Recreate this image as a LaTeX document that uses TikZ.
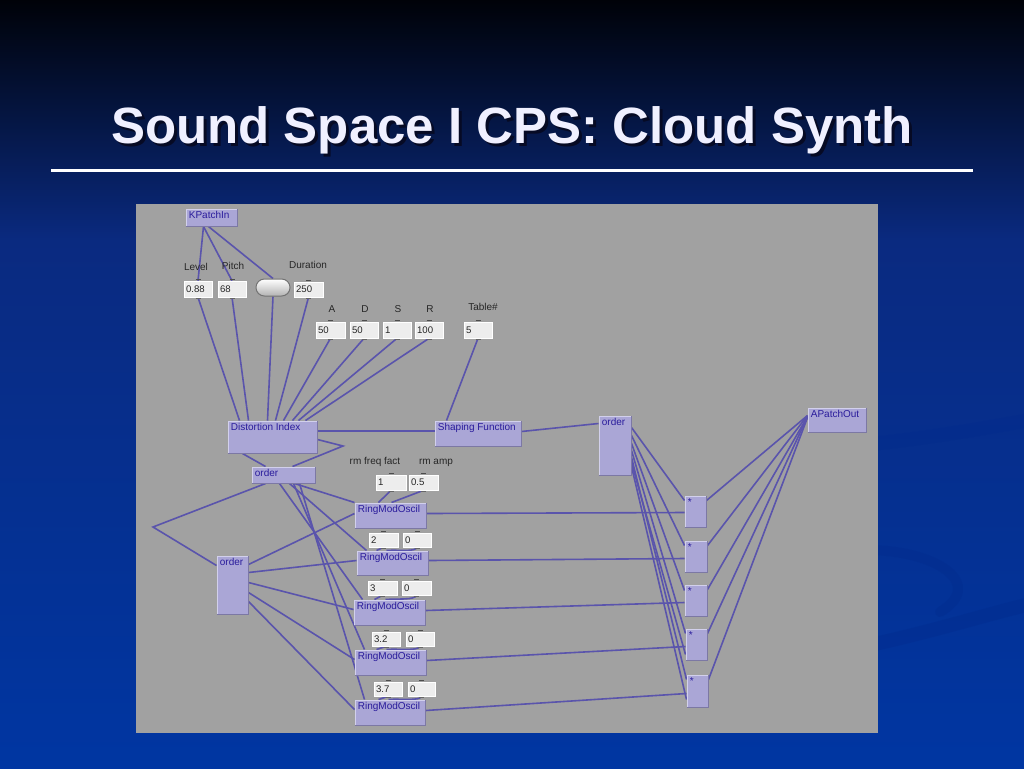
\documentclass[tikz,border=0pt]{standalone}
\usepackage{fontspec}
\setmainfont{Liberation Sans}
\usetikzlibrary{fit}
\definecolor{pdline}{HTML}{5A54AC}
\definecolor{boxfill}{HTML}{AAA6D6}
\definecolor{boxhi}{HTML}{D2D0EC}
\definecolor{boxlo}{HTML}{7C78A4}
\definecolor{boxtxt}{HTML}{2A1C9C}
\definecolor{numfill}{HTML}{EDEDED}
\definecolor{panelgray}{HTML}{A1A1A1}
\definecolor{bgtop}{HTML}{000208}
\definecolor{bgmid}{HTML}{0A2A80}
\definecolor{bgbot}{HTML}{0036A2}
\definecolor{swirlc}{HTML}{022A8C}
\definecolor{titlecol}{HTML}{F0F0FF}
\definecolor{titleshadow}{HTML}{060A24}
\pgfdeclarelayer{bg}
\pgfdeclarelayer{wires}
\pgfsetlayers{bg,wires,main}
\tikzset{
  pdb/.style={fill=boxfill, draw=boxhi, line width=0.5pt, inner sep=0pt},
  pdt/.style={anchor=north west, inner sep=0pt, text=boxtxt, font=\fontsize{5}{6}\selectfont},
  pnb/.style={fill=numfill, draw=white, line width=0.3pt, inner sep=0pt},
  pnt/.style={anchor=west, inner sep=0pt, text=black!85, font=\fontsize{4.8}{6}\selectfont},
  lbl/.style={inner sep=0pt, text=black!85, font=\fontsize{5}{6}\selectfont},
  wire/.style={draw=pdline, line width=0.8pt},
  swirl/.style={draw=swirlc, opacity=0.35, line cap=round},
  titlefont/.style={font=\fontsize{25.5}{30}\selectfont\bfseries, inner sep=0pt, anchor=base}
}
\newcommand\pdobj[6]{%
  \node[pdb, fit={(#2,#3)(#4,#5)}] (#1) {};
  \draw[boxlo, line width=0.5pt] (#1.south west) -- (#1.south east) -- (#1.north east);
  \node[pdt] at ([shift={(3,2.5)}]#1.north west) {#6};}
\newcommand\pdnum[6]{%
  \node[pnb, fit={(#2,#3)(#4,#5)}] (#1) {};
  \draw[black!70, line width=0.6pt] ([shift={(-2.5,-1.5)}]#1.north) -- ([shift={(2.5,-1.5)}]#1.north);
  \draw[black!60, line width=0.5pt] ([shift={(-2.5,1)}]#1.south) -- ([shift={(2.5,1)}]#1.south);
  \node[pnt] at ([shift={(2,0)}]#1.west) {#6};}
\begin{document}
\begin{tikzpicture}[x=0.5pt,y=-0.5pt]
\useasboundingbox (0,0) rectangle (1024,768);
\begin{pgfonlayer}{bg}
  \shade[top color=bgtop, bottom color=bgmid] (0,0) rectangle (1024,240);
  \shade[top color=bgmid, bottom color=bgbot] (0,240) rectangle (1024,768);
  \draw[swirl, line width=7pt] (870,444) .. controls (930,438) and (985,428) .. (1030,420);
  \draw[swirl, line width=5pt] (872,550) .. controls (940,552) and (985,585) .. (940,612);
  \draw[swirl, line width=7pt] (870,645) .. controls (930,632) and (985,615) .. (1030,604);
  \fill[panelgray] (136,204) rectangle (878,733);
\end{pgfonlayer}
% title
\node[titlefont, text=titleshadow] (tsh) at (515,146) {Sound Space I CPS: Cloud Synth};
\node[titlefont, text=titlecol] (title) at (512,143) {Sound Space I CPS: Cloud Synth};
\coordinate (rl) at (51,170);
\coordinate (rr) at (973,170);
\draw[white, line width=1.5pt] (rl) -- (rr);
% objects
\pdobj{kin}{186}{209}{237}{226}{KPatchIn}
\pdnum{n088}{184}{281}{212}{297}{0.88}
\pdnum{n68}{218}{281}{246}{297}{68}
\node[fit={(256,279)(290,296)}, inner sep=0pt, rounded corners=4.2pt, draw=black!55, line width=0.5pt, top color=white, bottom color=black!30] (btn) {};
\pdnum{n250}{294}{282}{323}{297}{250}
\pdnum{nA}{316}{322}{345}{338}{50}
\pdnum{nD}{350}{322}{378}{338}{50}
\pdnum{nS}{383}{322}{411}{338}{1}
\pdnum{nR}{415}{322}{443}{338}{100}
\pdnum{nT}{464}{322}{492}{338}{5}
\node[lbl] (lLevel) at (196,267) {Level};
\node[lbl] (lPitch) at (233,266) {Pitch};
\node[lbl] (lDur) at (308,265) {Duration};
\node[lbl] (lA) at (332,309) {A};
\node[lbl] (lD) at (365,309) {D};
\node[lbl] (lS) at (398,309) {S};
\node[lbl] (lR) at (430,309) {R};
\node[lbl] (lT) at (483,307) {Table\#};
\pdobj{di}{228}{421}{317}{453}{Distortion Index}
\pdobj{sf}{435}{421}{521}{446}{Shaping Function}
\pdobj{ordR}{599}{416}{631}{475}{order}
\pdobj{apo}{808}{408}{866}{432}{APatchOut}
\pdobj{ordS}{252}{467}{315}{483}{order}
\pdobj{ordL}{217}{556}{248}{614}{order}
\node[lbl] (lrf) at (375,462) {rm freq fact};
\node[lbl] (lra) at (436,463) {rm amp};
\pdnum{rf1}{376}{475}{406}{490}{1}
\pdnum{ra1}{409}{475}{438}{490}{0.5}
\pdobj{rmo1}{355}{503}{426}{528}{RingModOscil}
\pdnum{rf2}{369}{533}{398}{547}{2}
\pdnum{ra2}{403}{533}{431}{547}{0}
\pdobj{rmo2}{357}{551}{428}{575}{RingModOscil}
\pdnum{rf3}{368}{581}{397}{595}{3}
\pdnum{ra3}{402}{581}{431}{595}{0}
\pdobj{rmo3}{354}{600}{425}{625}{RingModOscil}
\pdnum{rf4}{372}{632}{400}{646}{3.2}
\pdnum{ra4}{406}{632}{434}{646}{0}
\pdobj{rmo4}{355}{650}{426}{675}{RingModOscil}
\pdnum{rf5}{374}{682}{402}{696}{3.7}
\pdnum{ra5}{408}{682}{435}{696}{0}
\pdobj{rmo5}{355}{700}{425}{725}{RingModOscil}
\pdobj{m1}{685}{496}{706}{527}{*}
\pdobj{m2}{685}{541}{707}{572}{*}
\pdobj{m3}{685}{585}{707}{616}{*}
\pdobj{m4}{686}{629}{707}{660}{*}
\pdobj{m5}{687}{675}{708}{707}{*}
\coordinate (zz) at (343,446);
\coordinate (lv) at (153,527);
% wires
\begin{pgfonlayer}{wires}
  \draw[wire] ([shift={(18,0)}]kin.south west) -- (n088.north);
  \draw[wire] ([shift={(18,0)}]kin.south west) -- (n68.north);
  \draw[wire] ([shift={(23,0)}]kin.south west) -- (btn.north);
  \draw[wire] (n088.south) -- ([shift={(12,0)}]di.north west);
  \draw[wire] (n68.south) -- ([shift={(21,0)}]di.north west);
  \draw[wire] (btn.south) -- ([shift={(40,0)}]di.north west);
  \draw[wire] (n250.south) -- ([shift={(48,0)}]di.north west);
  \draw[wire] (nA.south) -- ([shift={(56,0)}]di.north west);
  \draw[wire] (nD.south) -- ([shift={(65,0)}]di.north west);
  \draw[wire] (nS.south) -- ([shift={(71,0)}]di.north west);
  \draw[wire] (nR.south) -- ([shift={(78,0)}]di.north west);
  \draw[wire] (nT.south) -- ([shift={(12,0)}]sf.north west);
  \draw[wire] ([shift={(0,10.5)}]di.north east) -- ([shift={(0,10.5)}]sf.north west);
  \draw[wire] ([shift={(0,11)}]sf.north east) -- ([shift={(0,8)}]ordR.north west);
  \draw[wire] ([shift={(0,19)}]di.north east) -- (zz) -- ([shift={(41,0)}]ordS.north west);
  \draw[wire] ([shift={(15,0)}]di.south west) -- ([shift={(14,0)}]ordS.north west);
  \draw[wire] ([shift={(14,0)}]ordS.south west) -- (lv) -- ([shift={(0,10)}]ordL.north west);
  \draw[wire] ([shift={(43,0)}]ordS.south west) -- (rmo1.north west);
  \draw[wire] ([shift={(38,0)}]ordS.south west) -- ([shift={(10,0)}]rmo2.north west);
  \draw[wire] ([shift={(28,0)}]ordS.south west) -- ([shift={(9,0)}]rmo3.north west);
  \draw[wire] ([shift={(42,0)}]ordS.south west) -- ([shift={(10,0)}]rmo4.north west);
  \draw[wire] ([shift={(48,0)}]ordS.south west) -- ([shift={(10,0)}]rmo5.north west);
  \draw[wire] ([shift={(0,9)}]ordL.north east) -- ([shift={(0,11)}]rmo1.north west);
  \draw[wire] ([shift={(0,17)}]ordL.north east) -- ([shift={(0,10)}]rmo2.north west);
  \draw[wire] ([shift={(0,27)}]ordL.north east) -- ([shift={(0,10)}]rmo3.north west);
  \draw[wire] ([shift={(0,37)}]ordL.north east) -- ([shift={(0,10)}]rmo4.north west);
  \draw[wire] ([shift={(0,46)}]ordL.north east) -- ([shift={(0,10)}]rmo5.north west);
  \draw[wire] (rf1.south) -- ([shift={(24,0)}]rmo1.north west);
  \draw[wire] (ra1.south) -- ([shift={(37,0)}]rmo1.north west);
  \draw[wire] (rf2.south) -- ([shift={(20,0)}]rmo2.north west);
  \draw[wire] (ra2.south) .. controls +(-2,5) and +(12,-1) .. ([shift={(30,0)}]rmo2.north west);
  \draw[wire] (rf3.south) -- ([shift={(21,0)}]rmo3.north west);
  \draw[wire] (ra3.south) .. controls +(-2,5) and +(12,-1) .. ([shift={(32,0)}]rmo3.north west);
  \draw[wire] (rf4.south) -- ([shift={(22,0)}]rmo4.north west);
  \draw[wire] (ra4.south) .. controls +(-2,5) and +(12,-1) .. ([shift={(32,0)}]rmo4.north west);
  \draw[wire] (rf5.south) -- ([shift={(24,0)}]rmo5.north west);
  \draw[wire] (ra5.south) .. controls +(-2,5) and +(12,-1) .. ([shift={(34,0)}]rmo5.north west);
  \draw[wire] ([shift={(0,11)}]rmo1.north east) -- ([shift={(0,17)}]m1.north west);
  \draw[wire] ([shift={(0,10)}]rmo2.north east) -- ([shift={(0,18)}]m2.north west);
  \draw[wire] ([shift={(0,11)}]rmo3.north east) -- ([shift={(0,18)}]m3.north west);
  \draw[wire] ([shift={(0,11)}]rmo4.north east) -- ([shift={(0,18)}]m4.north west);
  \draw[wire] ([shift={(0,11)}]rmo5.north east) -- ([shift={(0,19)}]m5.north west);
  \draw[wire] ([shift={(0,12)}]ordR.north east) -- ([shift={(0,5)}]m1.north west);
  \draw[wire] ([shift={(0,20)}]ordR.north east) -- ([shift={(0,5)}]m2.north west);
  \draw[wire] ([shift={(0,28)}]ordR.north east) -- ([shift={(0,6)}]m3.north west);
  \draw[wire] ([shift={(0,35)}]ordR.north east) -- ([shift={(0,5)}]m4.north west);
  \draw[wire] ([shift={(0,42)}]ordR.north east) -- ([shift={(0,5)}]m5.north west);
  \draw[wire] ([shift={(0,47)}]ordR.north east) -- ([shift={(0,26)}]m4.north west);
  \draw[wire] ([shift={(0,51)}]ordR.north east) -- ([shift={(0,25)}]m5.north west);
  \draw[wire] ([shift={(0,5)}]m1.north east) -- ([shift={(0,8)}]apo.north west);
  \draw[wire] ([shift={(0,5)}]m2.north east) -- ([shift={(0,8)}]apo.north west);
  \draw[wire] ([shift={(0,5)}]m3.north east) -- ([shift={(0,9)}]apo.north west);
  \draw[wire] ([shift={(0,5)}]m4.north east) -- ([shift={(0,9)}]apo.north west);
  \draw[wire] ([shift={(0,5)}]m5.north east) -- ([shift={(0,10)}]apo.north west);
\end{pgfonlayer}
\end{tikzpicture}
\end{document}
